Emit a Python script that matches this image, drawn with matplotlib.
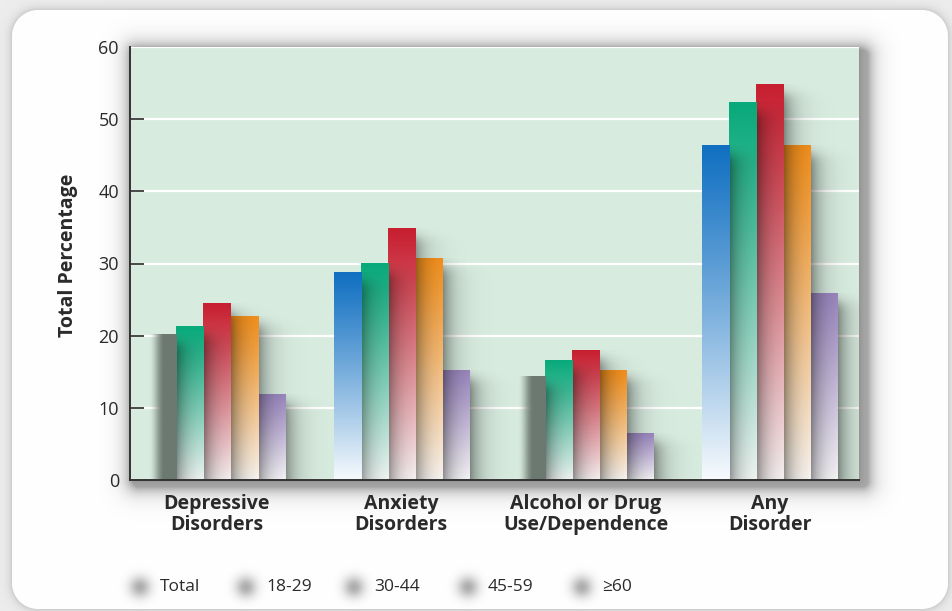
import numpy as np
import matplotlib
matplotlib.use("Agg")
import matplotlib.pyplot as plt
from matplotlib.colors import to_rgb

# ---- data -------------------------------------------------------------
categories = ["Depressive\nDisorders", "Anxiety\nDisorders",
              "Alcohol or Drug\nUse/Dependence", "Any\nDisorder"]
series_labels = ["Total", "18-29", "30-44", "45-59", "≥60"]
total = [20.2, 28.8, 14.3, 46.3]
age_18_29 = [21.3, 30.0, 16.6, 52.3]
age_30_44 = [24.5, 34.9, 17.9, 54.8]
age_45_59 = [22.7, 30.7, 15.2, 46.4]
age_60_plus = [11.9, 15.2, 6.4, 25.9]
y_ticks = [0, 10, 20, 30, 40, 50, 60]

series_values = [total, age_18_29, age_30_44, age_45_59, age_60_plus]

# ---- style ------------------------------------------------------------
top_colors = ["#1170c2", "#08a97a", "#c71f30", "#f7931e", "#9d89c2"]
flat_gray = "#6c7971"          # "Total" bars drawn flat in these groups
flat_groups = {0, 2}
plot_bg = "#d8ebdf"
text_col = "#2a2a2a"

plt.rcParams["font.family"] = ["Open Sans", "DejaVu Sans"]

W, H = 953, 611
fig = plt.figure(figsize=(W / 100, H / 100), dpi=100)

# plot area in pixels
px0, py0, px1, py1 = 130, 47, 859, 480

# ---- background card, plot-area shadow, legend blobs -------------------
yy, xx = np.mgrid[0:H, 0:W] + 0.5


def rrect_sdf(x0, y0, x1, y1, r):
    cx, cy = (x0 + x1) / 2, (y0 + y1) / 2
    hx, hy = (x1 - x0) / 2 - r, (y1 - y0) / 2 - r
    qx = np.abs(xx - cx) - hx
    qy = np.abs(yy - cy) - hy
    return (np.hypot(np.maximum(qx, 0), np.maximum(qy, 0))
            + np.minimum(np.maximum(qx, qy), 0) - r)


card = rrect_sdf(12, 10, 948, 609, 26)
outside = 0.93 - 0.13 * np.exp(-np.maximum(card, 0) / 4.0)
inside = np.clip(0.5 - card, 0, 1)
gray = outside * (1 - inside) + 1.0 * inside

shade = np.zeros_like(gray)
ps = rrect_sdf(px0 + 3, py0 + 3, px1 + 9, py1 + 7, 6)
shade += 0.32 * np.exp(-np.maximum(ps, 0) / 8.0)
halo = rrect_sdf(px0, py0, px1, py1, 2)
shade += 0.10 * np.exp(-np.maximum(halo, 0) / 6.0)

legend_text_x = [160, 266, 374, 488, 602]
legend_y = 587
for tx in legend_text_x:
    r2 = (xx - (tx - 20)) ** 2 + (yy - legend_y) ** 2
    shade += 0.32 * np.exp(-r2 / (2 * 7.5 ** 2))

gray = gray * (1 - np.clip(shade, 0, 0.8))
bg_img = np.dstack([gray, gray, gray])

bg = fig.add_axes([0, 0, 1, 1], zorder=-5)
bg.imshow(bg_img, extent=(0, W, H, 0), aspect="auto", interpolation="bilinear")
bg.set_xlim(0, W)
bg.set_ylim(H, 0)
bg.axis("off")

# ---- main axes ----------------------------------------------------------
ax = fig.add_axes([px0 / W, 1 - py1 / H, (px1 - px0) / W, (py1 - py0) / H], zorder=1)
ax.set_facecolor(plot_bg)

x = np.arange(len(categories))
w = 0.147
xlim = (-0.472, 3.484)
ylim = (0, 60)
px_per_x = (px1 - px0) / (xlim[1] - xlim[0])

shadow_len = 11 / px_per_x
white = np.array([1.0, 1.0, 1.0])

for j, vals in enumerate(series_values):
    z_bar = 20 - 2 * j
    bars = ax.bar(x + (j - 2) * w, vals, w, color="none", edgecolor="none", zorder=z_bar)
    top = np.array(to_rgb(top_colors[j]))
    for i, b in enumerate(bars):
        x0 = b.get_x()
        x1 = x0 + b.get_width()
        h = b.get_height()
        n, m = 200, 24
        if j == 0 and i in flat_groups:
            col = np.array(to_rgb(flat_gray))
            img = np.ones((n, m, 4))
            img[..., :3] = col
            u = (np.arange(m) + 0.5) / m
            ramp = np.clip(u / 0.55, 0, 1)
            ramp = ramp * ramp * (3 - 2 * ramp)
            img[..., 3] = ramp[None, :]
        else:
            t = ((np.arange(n) + 0.5) / n) ** 1.1
            rgb = top[None, :] * (1 - t[:, None]) + (0.97 * white + 0.03 * top)[None, :] * t[:, None]
            img = np.ones((n, m, 4))
            img[..., :3] = rgb[:, None, :]
        ax.imshow(img, extent=(x0, x1, 0, h), aspect="auto", origin="upper",
                  interpolation="bilinear", zorder=z_bar)

        # soft drop shadow cast to the right
        sx0, sx1 = x1 - 0.05 * w, x1 + 5 * shadow_len
        ns, ms = 160, 60
        X = np.linspace(sx0, sx1, ms)
        Y = np.linspace(h, 0, ns)
        fx = np.exp(-np.maximum(X - x1, 0) / shadow_len)
        fy = 1 / (1 + np.exp((Y - (h - 1.2)) / 0.5))
        sh = np.zeros((ns, ms, 4))
        sh[..., 3] = 0.42 * fy[:, None] * fx[None, :]
        ax.imshow(sh, extent=(sx0, sx1, 0, h), aspect="auto", origin="upper",
                  interpolation="bilinear", zorder=z_bar - 1)

ax.set_xlim(*xlim)
ax.set_ylim(*ylim)

ax.set_yticks(y_ticks)
ax.set_yticklabels([str(v) for v in y_ticks])
ax.yaxis.grid(True, color="white", linewidth=1.6)
ax.set_axisbelow(True)
ax.tick_params(axis="y", direction="in", length=10, width=1.3, color="#3a3a3a",
               labelsize=13, labelcolor=text_col, pad=8)
for k in (0, len(y_ticks) - 1):
    ax.yaxis.get_major_ticks()[k].tick1line.set_visible(False)

ax.set_xticks(x)
ax.set_xticklabels(categories, fontsize=14, fontweight="bold", color=text_col,
                   linespacing=1.1)
ax.tick_params(axis="x", length=0, pad=10)

for s in ("top", "right"):
    ax.spines[s].set_visible(False)
for s in ("left", "bottom"):
    ax.spines[s].set_color("#333333")
    ax.spines[s].set_linewidth(1.4)
    ax.spines[s].set_zorder(40)

fig.text(68 / W, 1 - 255 / H, "Total Percentage", rotation=90, ha="center", va="center",
         fontsize=14, fontweight="bold", color=text_col)

for tx, lab in zip(legend_text_x, series_labels):
    fig.text(tx / W, 1 - legend_y / H, lab, ha="left", va="center",
             fontsize=12.5, color=text_col)

fig.savefig("out.png", dpi=100)
